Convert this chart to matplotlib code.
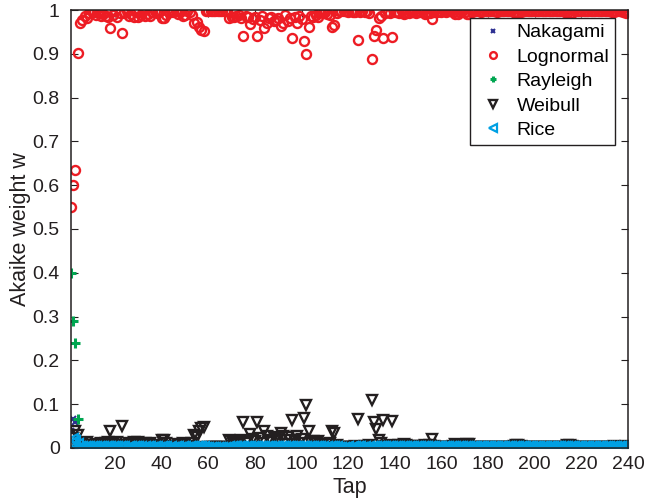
import numpy as np
import matplotlib
matplotlib.use('Agg')
import matplotlib.pyplot as plt
from matplotlib.ticker import FuncFormatter

plt.rcParams['font.family'] = ['Liberation Sans', 'DejaVu Sans']

taps = np.arange(1, 241)

lognormal = [
    0.550, 0.600, 0.635, 0.902, 0.971, 0.977, 0.986, 0.982, 0.993, 0.998,
    0.995, 0.988, 0.996, 0.986, 0.990, 0.987, 0.984, 0.958, 0.989, 0.997,
    0.985, 0.994, 0.948, 0.993, 0.997, 0.986, 0.990, 0.984, 0.995, 0.985,
    0.989, 0.997, 0.987, 0.992, 0.987, 0.996, 0.998, 0.993, 0.995, 0.982,
    0.982, 0.988, 0.996, 0.998, 0.995, 0.997, 0.991, 0.996, 0.987, 0.989,
    0.997, 0.995, 0.988, 0.970, 0.973, 0.961, 0.954, 0.951, 0.998, 0.998,
    0.998, 0.998, 0.998, 0.998, 0.998, 0.998, 0.997, 0.998, 0.982, 0.984,
    0.983, 0.986, 0.989, 0.982, 0.940, 0.987, 0.985, 0.968, 0.979, 0.983,
    0.940, 0.977, 0.987, 0.960, 0.971, 0.981, 0.985, 0.974, 0.977, 0.981,
    0.963, 0.971, 0.989, 0.975, 0.982, 0.935, 0.983, 0.971, 0.987, 0.979,
    0.930, 0.899, 0.961, 0.987, 0.983, 0.988, 0.983, 0.995, 0.993, 0.996,
    0.991, 0.988, 0.961, 0.965, 0.993, 0.997, 0.998, 0.997, 0.998, 0.996,
    0.997, 0.996, 0.995, 0.931, 0.996, 0.997, 0.995, 0.997, 0.993, 0.889,
    0.941, 0.955, 0.982, 0.987, 0.936, 0.994, 0.996, 0.993, 0.938, 0.996,
    0.995, 0.993, 0.997, 0.991, 0.993, 0.994, 0.996, 0.995, 0.994, 0.997,
    0.996, 0.995, 0.992, 0.994, 0.993, 0.979, 0.995, 0.996, 0.997, 0.996,
    0.997, 0.996, 0.997, 0.998, 0.995, 0.991, 0.992, 0.996, 0.997, 0.995,
    0.991, 0.990, 0.996, 0.997, 0.998, 0.997, 0.996, 0.997, 0.998, 0.998,
    0.997, 0.998, 0.997, 0.996, 0.998, 0.997, 0.998, 0.997, 0.998, 0.997,
    0.995, 0.992, 0.993, 0.995, 0.997, 0.998, 0.997, 0.998, 0.997, 0.998,
    0.998, 0.997, 0.998, 0.997, 0.998, 0.998, 0.997, 0.998, 0.998, 0.997,
    0.998, 0.997, 0.996, 0.993, 0.992, 0.994, 0.997, 0.998, 0.998, 0.997,
    0.998, 0.997, 0.998, 0.998, 0.997, 0.998, 0.997, 0.998, 0.998, 0.997,
    0.998, 0.997, 0.996, 0.995, 0.997, 0.998, 0.997, 0.996, 0.994, 0.997,
]

weibull = [
    0.003, 0.022, 0.038, 0.030, 0.012, 0.008, 0.006, 0.013, 0.004, 0.002,
    0.005, 0.010, 0.004, 0.012, 0.008, 0.011, 0.014, 0.039, 0.010, 0.002,
    0.013, 0.005, 0.050, 0.006, 0.003, 0.012, 0.009, 0.014, 0.004, 0.013,
    0.010, 0.002, 0.012, 0.007, 0.012, 0.003, 0.001, 0.006, 0.004, 0.017,
    0.017, 0.011, 0.003, 0.001, 0.004, 0.002, 0.008, 0.003, 0.012, 0.010,
    0.002, 0.004, 0.011, 0.029, 0.026, 0.038, 0.045, 0.048, 0.001, 0.001,
    0.001, 0.001, 0.001, 0.001, 0.001, 0.001, 0.002, 0.001, 0.017, 0.015,
    0.016, 0.013, 0.010, 0.017, 0.058, 0.012, 0.014, 0.031, 0.020, 0.016,
    0.058, 0.022, 0.012, 0.039, 0.028, 0.018, 0.014, 0.025, 0.022, 0.018,
    0.035, 0.028, 0.010, 0.024, 0.017, 0.063, 0.016, 0.028, 0.012, 0.020,
    0.068, 0.099, 0.038, 0.012, 0.016, 0.011, 0.016, 0.004, 0.006, 0.003,
    0.008, 0.011, 0.038, 0.034, 0.006, 0.002, 0.001, 0.002, 0.001, 0.003,
    0.002, 0.003, 0.004, 0.067, 0.003, 0.002, 0.004, 0.002, 0.006, 0.109,
    0.058, 0.044, 0.017, 0.012, 0.063, 0.005, 0.003, 0.006, 0.061, 0.003,
    0.004, 0.006, 0.002, 0.008, 0.006, 0.005, 0.003, 0.004, 0.005, 0.002,
    0.003, 0.004, 0.007, 0.005, 0.006, 0.020, 0.004, 0.003, 0.002, 0.003,
    0.002, 0.003, 0.002, 0.001, 0.004, 0.008, 0.007, 0.003, 0.002, 0.004,
    0.008, 0.009, 0.003, 0.002, 0.001, 0.002, 0.003, 0.002, 0.001, 0.001,
    0.002, 0.001, 0.002, 0.003, 0.001, 0.002, 0.001, 0.002, 0.001, 0.002,
    0.004, 0.007, 0.006, 0.004, 0.002, 0.001, 0.002, 0.001, 0.002, 0.001,
    0.001, 0.002, 0.001, 0.002, 0.001, 0.001, 0.002, 0.001, 0.001, 0.002,
    0.001, 0.002, 0.003, 0.006, 0.007, 0.005, 0.002, 0.001, 0.001, 0.002,
    0.001, 0.002, 0.001, 0.001, 0.002, 0.001, 0.002, 0.001, 0.001, 0.002,
    0.001, 0.002, 0.003, 0.004, 0.002, 0.001, 0.002, 0.003, 0.005, 0.002,
]

rice = [
    0.012, 0.020, 0.015, 0.008, 0.003, 0.002, 0.002, 0.001, 0.002, 0.001,
    0.001, 0.002, 0.001, 0.001, 0.002, 0.001, 0.001, 0.002, 0.001, 0.001,
    0.002, 0.001, 0.001, 0.001, 0.000, 0.001, 0.001, 0.002, 0.001, 0.001,
    0.001, 0.000, 0.001, 0.001, 0.001, 0.000, 0.001, 0.001, 0.000, 0.001,
    0.001, 0.001, 0.000, 0.001, 0.000, 0.001, 0.001, 0.000, 0.001, 0.001,
    0.000, 0.001, 0.001, 0.001, 0.001, 0.001, 0.001, 0.001, 0.000, 0.000,
    0.000, 0.000, 0.000, 0.000, 0.000, 0.000, 0.000, 0.000, 0.001, 0.001,
    0.001, 0.001, 0.001, 0.001, 0.002, 0.001, 0.001, 0.001, 0.001, 0.001,
    0.002, 0.001, 0.001, 0.001, 0.001, 0.001, 0.001, 0.001, 0.001, 0.001,
    0.002, 0.001, 0.001, 0.001, 0.001, 0.002, 0.001, 0.001, 0.001, 0.001,
    0.002, 0.002, 0.001, 0.001, 0.001, 0.001, 0.001, 0.001, 0.001, 0.000,
    0.001, 0.001, 0.001, 0.001, 0.001, 0.000, 0.000, 0.000, 0.000, 0.001,
    0.000, 0.001, 0.001, 0.002, 0.001, 0.000, 0.001, 0.000, 0.001, 0.002,
    0.001, 0.001, 0.001, 0.001, 0.001, 0.001, 0.001, 0.001, 0.001, 0.001,
    0.001, 0.001, 0.001, 0.001, 0.001, 0.001, 0.001, 0.001, 0.001, 0.001,
    0.001, 0.001, 0.001, 0.001, 0.001, 0.001, 0.001, 0.001, 0.001, 0.001,
    0.001, 0.001, 0.001, 0.001, 0.001, 0.001, 0.001, 0.001, 0.001, 0.001,
    0.001, 0.001, 0.001, 0.001, 0.001, 0.001, 0.001, 0.001, 0.001, 0.001,
    0.001, 0.001, 0.001, 0.001, 0.001, 0.001, 0.001, 0.001, 0.001, 0.001,
    0.001, 0.001, 0.001, 0.001, 0.001, 0.001, 0.001, 0.001, 0.001, 0.001,
    0.001, 0.001, 0.001, 0.001, 0.001, 0.001, 0.001, 0.001, 0.001, 0.001,
    0.001, 0.001, 0.001, 0.001, 0.001, 0.001, 0.001, 0.001, 0.001, 0.001,
    0.001, 0.001, 0.001, 0.001, 0.001, 0.001, 0.001, 0.001, 0.001, 0.001,
    0.001, 0.001, 0.001, 0.001, 0.001, 0.001, 0.001, 0.001, 0.002, 0.001,
]

# only the first taps are visible for these two, the rest sit under the Rice band
nakagami_taps = [1, 2, 3, 4, 5, 6]
nakagami = [0.039, 0.066, 0.060, 0.004, 0.001, 0.001]
rayleigh_taps = [1, 2, 3, 4, 5, 6]
rayleigh = [0.400, 0.290, 0.240, 0.065, 0.002, 0.001]

fig = plt.figure(figsize=(6.68, 5.01), dpi=100)
ax = fig.add_axes([0.106, 0.106, 0.834, 0.874])

ax.plot(nakagami_taps, nakagami, 'x', color='#2E3192', ms=4, mew=1.5, label='Nakagami')
ax.plot(taps, lognormal, 'o', mfc='none', mec='#ED1C24', ms=6.5, mew=1.7, label='Lognormal')
ax.plot(rayleigh_taps, rayleigh, '+', color='#00A651', ms=6.5, mew=2.2, label='Rayleigh')
ax.plot(taps, weibull, 'v', mfc='none', mec='#231F20', ms=7, mew=1.7, label='Weibull')
ax.plot(taps, rice, '<', mfc='none', mec='#00A0E3', ms=7, mew=1.6, label='Rice')

ax.set_xlim(1, 240)
ax.set_ylim(0, 1)
ax.set_xticks(np.arange(20, 241, 20))
ax.set_yticks(np.arange(0, 1.01, 0.1))
ax.yaxis.set_major_formatter(FuncFormatter(lambda v, p: '%g' % round(v, 1)))
ax.tick_params(direction='in', top=True, right=True, labelsize=14, length=5,
               color='#231F20', labelcolor='#231F20')
ax.tick_params(axis='y', pad=8)
ax.tick_params(axis='x', pad=6)
for s in ax.spines.values():
    s.set_color('#231F20')
    s.set_linewidth(1.1)

ax.set_xlabel('Tap', fontsize=15.5, color='#231F20', labelpad=3)
ax.set_ylabel('Akaike weight w', fontsize=15.5, color='#231F20', labelpad=1)

leg = ax.legend(loc='upper right', bbox_to_anchor=(0.977, 0.982), fontsize=14,
                fancybox=False, edgecolor='#231F20', framealpha=1,
                markerscale=0.75, handlelength=1.8, handletextpad=0.3,
                labelspacing=0.35, borderpad=0.3, borderaxespad=0)
leg.get_frame().set_linewidth(1.0)

fig.savefig('out.png', dpi=100)
